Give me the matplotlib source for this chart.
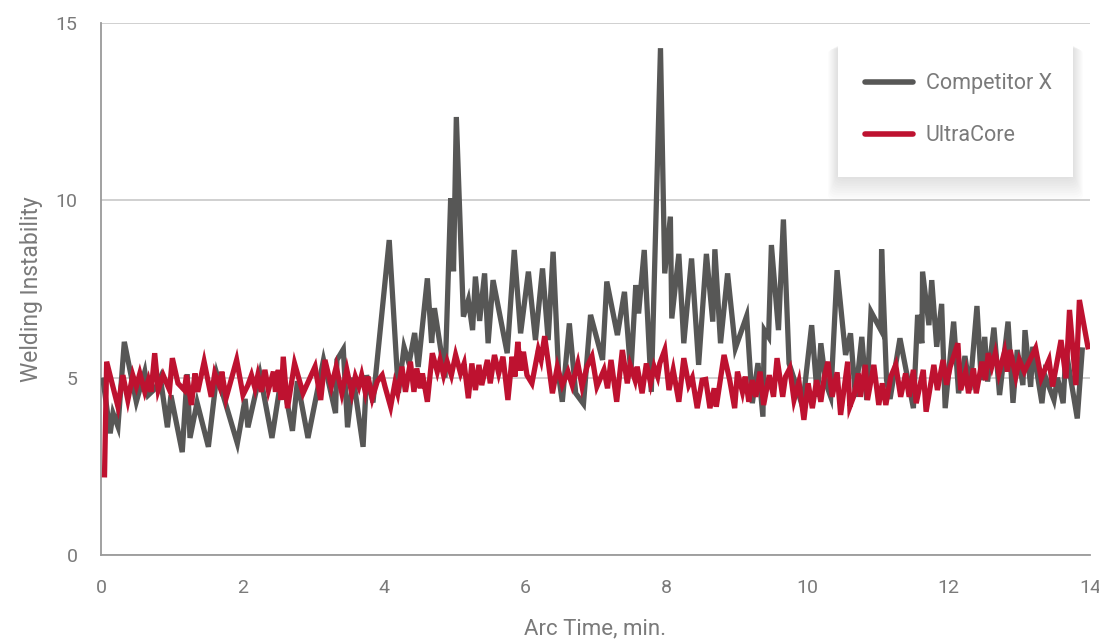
import matplotlib
matplotlib.use("Agg")
from matplotlib import pyplot as plt
from matplotlib.patches import FancyBboxPatch
from matplotlib import font_manager

# Competitor X readings (arc time in min, instability)
comp_t = [0.03, 0.13, 0.17, 0.24, 0.33, 0.50, 0.62, 0.67, 0.77, 0.84, 0.94, 0.99,
          1.15, 1.22, 1.26, 1.36, 1.52, 1.64, 1.93, 2.04, 2.08, 2.25, 2.42, 2.56,
          2.71, 2.78, 2.93, 3.15, 3.32, 3.34, 3.43, 3.49, 3.57, 3.71, 3.76, 3.85,
          4.08, 4.21, 4.29, 4.36, 4.44, 4.49, 4.62, 4.68, 4.72, 4.87, 4.95, 4.99,
          5.03, 5.13, 5.20, 5.26, 5.30, 5.36, 5.43, 5.48, 5.55, 5.75, 5.85, 5.94,
          6.05, 6.15, 6.25, 6.33, 6.40, 6.48, 6.53, 6.63, 6.72, 6.83, 6.93, 7.10,
          7.16, 7.31, 7.41, 7.50, 7.57, 7.61, 7.69, 7.79, 7.92, 7.98, 8.06, 8.08,
          8.18, 8.25, 8.36, 8.46, 8.57, 8.66, 8.69, 8.77, 8.87, 8.98, 9.14, 9.22,
          9.30, 9.37, 9.39, 9.45, 9.49, 9.59, 9.66, 9.74, 9.83, 9.93, 10.06, 10.14,
          10.19, 10.26, 10.33, 10.42, 10.54, 10.61, 10.68, 10.77, 10.84, 10.90, 11.04, 11.05,
          11.12, 11.17, 11.31, 11.50, 11.56, 11.62, 11.63, 11.72, 11.76, 11.83, 11.90, 11.95,
          12.07, 12.14, 12.23, 12.30, 12.40, 12.46, 12.51, 12.55, 12.64, 12.72, 12.84, 12.91,
          12.97, 13.05, 13.08, 13.16, 13.19, 13.32, 13.36, 13.49, 13.54, 13.62, 13.66, 13.82,
          13.89]
comp_v = [4.93, 3.43, 4.00, 3.62, 6.01, 4.32, 5.17, 4.51, 4.70, 5.00, 3.60, 4.50,
          2.90, 5.10, 3.30, 4.30, 3.05, 5.10, 3.15, 4.40, 3.60, 5.10, 3.30, 5.10,
          3.50, 4.90, 3.30, 5.50, 4.00, 5.50, 5.80, 3.60, 5.00, 3.05, 5.07, 4.30,
          8.88, 4.57, 5.86, 5.40, 6.26, 5.30, 7.80, 5.98, 6.96, 5.00, 10.06, 8.00,
          12.35, 6.72, 7.19, 6.34, 7.85, 6.60, 7.94, 5.97, 7.75, 5.69, 8.60, 6.25,
          7.99, 6.06, 8.08, 6.06, 8.55, 5.03, 4.32, 6.53, 4.56, 4.26, 6.77, 5.50,
          7.71, 6.20, 7.42, 5.12, 7.61, 6.81, 8.60, 4.60, 14.29, 7.94, 9.54, 6.67,
          8.49, 5.97, 8.36, 5.36, 8.49, 6.58, 8.62, 5.97, 7.94, 5.83, 6.74, 4.28,
          5.41, 3.90, 6.34, 6.15, 8.74, 6.34, 9.46, 5.40, 4.85, 4.18, 6.48, 4.46,
          5.97, 4.85, 4.46, 8.03, 5.64, 6.25, 4.46, 6.15, 4.37, 6.86, 6.34, 8.62,
          4.93, 4.40, 6.11, 4.14, 6.77, 5.97, 7.99, 6.48, 7.75, 5.87, 7.08, 4.14,
          6.58, 4.56, 5.61, 4.65, 7.02, 4.93, 6.15, 4.89, 6.41, 4.51, 6.58, 4.29,
          5.78, 4.79, 6.34, 4.74, 5.87, 4.28, 5.07, 4.37, 5.00, 4.28, 5.78, 3.85,
          5.78]

# UltraCore readings
ultra_t = [0.05, 0.08, 0.24, 0.31, 0.38, 0.45, 0.50, 0.55, 0.62, 0.67, 0.71, 0.76,
           0.81, 0.88, 0.97, 1.01, 1.09, 1.18, 1.21, 1.28, 1.33, 1.37, 1.46, 1.56,
           1.61, 1.68, 1.71, 1.77, 1.92, 2.01, 2.08, 2.13, 2.18, 2.22, 2.27, 2.32,
           2.37, 2.44, 2.47, 2.51, 2.55, 2.58, 2.64, 2.74, 2.86, 3.03, 3.11, 3.17,
           3.26, 3.33, 3.41, 3.48, 3.55, 3.60, 3.65, 3.69, 3.74, 3.78, 3.84, 3.91,
           3.98, 4.02, 4.10, 4.16, 4.20, 4.26, 4.31, 4.38, 4.43, 4.47, 4.52, 4.55,
           4.62, 4.69, 4.76, 4.80, 4.85, 4.90, 4.96, 5.02, 5.09, 5.14, 5.20, 5.25,
           5.30, 5.35, 5.39, 5.47, 5.51, 5.57, 5.63, 5.69, 5.76, 5.82, 5.86, 5.90,
           5.94, 5.98, 6.03, 6.10, 6.19, 6.23, 6.28, 6.34, 6.39, 6.46, 6.53, 6.61,
           6.67, 6.75, 6.81, 6.88, 6.95, 7.02, 7.12, 7.17, 7.22, 7.30, 7.38, 7.45,
           7.49, 7.56, 7.59, 7.66, 7.72, 7.78, 7.83, 7.88, 7.91, 7.98, 8.04, 8.10,
           8.18, 8.25, 8.32, 8.37, 8.44, 8.51, 8.56, 8.62, 8.68, 8.71, 8.82, 8.90,
           8.97, 9.01, 9.08, 9.12, 9.17, 9.22, 9.27, 9.33, 9.38, 9.46, 9.52, 9.57,
           9.65, 9.69, 9.75, 9.81, 9.88, 9.95, 10.01, 10.07, 10.13, 10.19, 10.24, 10.29,
           10.35, 10.42, 10.47, 10.57, 10.60, 10.66, 10.72, 10.75, 10.82, 10.85, 10.94, 11.01,
           11.06, 11.11, 11.18, 11.25, 11.32, 11.39, 11.44, 11.50, 11.54, 11.64, 11.68, 11.79,
           11.84, 11.92, 11.97, 12.02, 12.13, 12.17, 12.24, 12.28, 12.35, 12.39, 12.47, 12.52,
           12.56, 12.61, 12.66, 12.71, 12.79, 12.83, 12.87, 12.95, 13.00, 13.07, 13.23, 13.31,
           13.42, 13.47, 13.59, 13.66, 13.71, 13.80, 13.85, 13.97]
ultra_v = [2.26, 5.45, 4.18, 5.07, 4.37, 5.07, 4.75, 5.12, 4.60, 4.93, 4.60, 5.69,
           4.65, 5.07, 4.65, 5.55, 4.84, 4.65, 5.07, 4.23, 5.12, 4.60, 5.45, 4.46,
           5.12, 4.75, 5.17, 4.42, 5.50, 4.51, 4.79, 5.07, 4.70, 5.07, 4.60, 5.22,
           4.65, 5.17, 4.60, 5.22, 4.37, 5.59, 4.14, 5.40, 4.56, 5.31, 4.37, 5.50,
           4.75, 5.31, 4.56, 5.22, 4.56, 5.03, 4.75, 5.07, 4.60, 5.03, 4.42, 4.89,
           5.07, 4.75, 4.18, 4.84, 4.56, 5.31, 4.60, 5.45, 4.60, 5.26, 4.70, 5.12,
           4.32, 5.69, 5.17, 5.50, 5.07, 5.45, 5.07, 5.64, 5.12, 5.40, 4.42, 5.40,
           4.65, 5.36, 4.79, 5.50, 4.84, 5.64, 5.12, 5.59, 4.37, 5.59, 5.03, 6.01,
           5.20, 5.73, 5.07, 4.84, 5.78, 5.50, 6.17, 5.31, 4.56, 5.31, 4.79, 5.17,
           4.79, 5.40, 4.75, 5.31, 5.60, 4.75, 5.22, 4.70, 5.50, 4.32, 5.78, 4.84,
           5.36, 4.93, 5.31, 4.56, 5.40, 4.84, 5.31, 5.03, 5.40, 5.78, 4.65, 5.22,
           4.32, 5.55, 4.79, 5.00, 4.14, 4.93, 4.95, 4.14, 4.70, 4.18, 5.64, 4.93,
           4.14, 5.17, 4.60, 5.03, 4.32, 4.93, 4.46, 5.17, 4.23, 5.07, 4.46, 5.55,
           4.46, 5.03, 5.26, 4.37, 4.89, 3.81, 4.84, 4.14, 4.93, 4.32, 5.03, 5.45,
           4.46, 5.15, 3.95, 5.45, 4.18, 4.50, 5.12, 4.46, 5.36, 4.37, 5.36, 4.23,
           4.84, 4.23, 5.03, 5.36, 4.46, 5.12, 4.46, 5.22, 4.28, 5.22, 4.04, 5.36,
           4.65, 5.50, 4.80, 5.30, 5.97, 4.65, 5.17, 4.56, 5.26, 4.56, 5.45, 4.93,
           5.69, 5.31, 5.69, 5.12, 5.73, 5.17, 5.78, 5.03, 5.50, 5.17, 5.83, 4.98,
           5.50, 4.75, 6.06, 4.98, 6.91, 4.79, 7.19, 5.87]

series_names = ["Competitor X", "UltraCore"]
series_colors = ["#575756", "#BE1230"]

installed = {f.name for f in font_manager.fontManager.ttflist}
family = "Liberation Sans Narrow" if "Liberation Sans Narrow" in installed else "Roboto"
plt.rcParams["font.family"] = [family, "DejaVu Sans"]

text_gray = "#7a7a7a"

fig = plt.figure(figsize=(10.99, 6.41), dpi=100)
ax = fig.add_axes([0.0919, 0.1342, 0.8999, 0.8299])

ax.plot(comp_t, comp_v, color=series_colors[0], lw=3.8, label=series_names[0],
        solid_joinstyle="miter", zorder=3)
ax.plot(ultra_t, ultra_v, color=series_colors[1], lw=3.8, label=series_names[1],
        solid_joinstyle="miter", zorder=4)

ax.set_xlim(0, 14)
ax.set_ylim(0, 15)
ax.set_xticks(range(0, 15, 2))
ax.set_yticks([0, 5, 10, 15])
ax.yaxis.grid(True, color="#c8c8c8", lw=1.2)
ax.set_axisbelow(True)
for s in ["top", "right"]:
    ax.spines[s].set_visible(False)
for s in ["left", "bottom"]:
    ax.spines[s].set_color("#9a9a9a")
    ax.spines[s].set_linewidth(1.3)
ax.tick_params(axis="both", length=0, labelsize=14, colors=text_gray)
ax.tick_params(axis="x", pad=17)
ax.tick_params(axis="y", pad=17)
ax.set_xlabel("Arc Time, min.", fontsize=16, color=text_gray, labelpad=16)
ax.set_ylabel("Welding Instability", fontsize=16.5, color=text_gray, labelpad=9)

# legend box with a soft shadow, mostly below the box
bx, by, bw, bh = 0.745, 0.711, 0.238, 0.251
for i in range(10):
    grow = 0.002 * (10 - i)
    ax.add_patch(FancyBboxPatch((bx - grow * 0.5, by - grow * 2.2), bw + grow * 1.0, bh + grow * 1.7,
                                boxstyle="round,pad=0,rounding_size=0.01", transform=ax.transAxes,
                                facecolor="black", edgecolor="none", alpha=0.012, zorder=8))
ax.add_patch(FancyBboxPatch((bx, by), bw, bh, boxstyle="square,pad=0",
                            transform=ax.transAxes, facecolor="white",
                            edgecolor="none", zorder=9))
leg = ax.legend(loc="center left", bbox_to_anchor=(0.773, 0.837), frameon=False,
                fontsize=15.5, handlelength=2.2, handletextpad=0.6, labelspacing=1.45,
                borderpad=0, borderaxespad=0)
leg.set_zorder(10)
for t in leg.get_texts():
    t.set_color(text_gray)
for h in leg.get_lines():
    h.set_linewidth(4)
    h.set_solid_capstyle("round")

fig.savefig("out.png", dpi=100, facecolor="white")
